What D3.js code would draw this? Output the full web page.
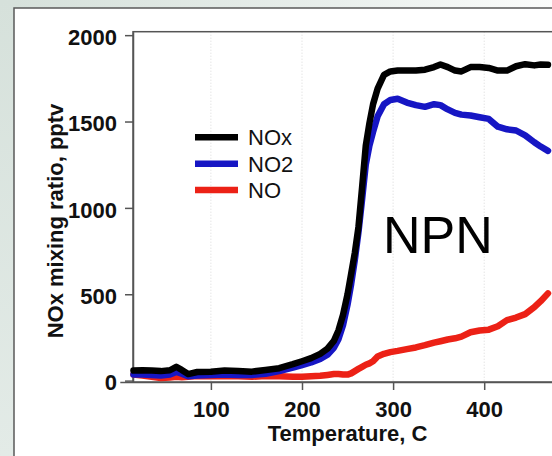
<!DOCTYPE html>
<html>
<head>
<meta charset="utf-8">
<script src="https://cdn.jsdelivr.net/npm/d3@7"></script>
<style>
  body { margin: 0; background: #ffffff; }
  text { font-family: Arial, "Liberation Sans", sans-serif; }
</style>
</head>
<body>
<script>
var w = 552, h = 456;

// temperature, C (shared sample points)
var temps = [15, 25, 35, 45, 55, 62, 68, 75, 85, 100, 115, 130, 145, 160, 175, 190, 200, 210, 220, 228,
    235, 240, 245, 250, 254, 258, 262, 266, 270, 274, 278, 283, 290, 297, 305, 315, 325, 335, 345, 352,
    360, 368, 375, 385, 395, 405, 415, 425, 435, 445, 455, 462, 470];

var noxValues = [58, 60, 58, 55, 60, 80, 62, 38, 50, 52, 58, 55, 52, 62, 72, 95, 112, 130, 155, 185,
    230, 290, 380, 500, 620, 740, 890, 1120, 1360, 1490, 1600, 1690, 1770, 1790, 1795, 1795, 1795, 1800, 1815, 1830,
    1815, 1795, 1790, 1815, 1815, 1810, 1795, 1795, 1820, 1832, 1825, 1830, 1828];

var no2Values = [35, 35, 33, 30, 35, 50, 40, 25, 30, 32, 35, 33, 33, 40, 55, 75, 90, 105, 125, 150,
    190, 240, 320, 440, 560, 700, 860, 1050, 1250, 1360, 1440, 1530, 1600, 1625, 1632, 1610, 1595, 1585, 1600, 1595,
    1570, 1550, 1540, 1535, 1525, 1515, 1470, 1455, 1448, 1420, 1380, 1355, 1330];

var noValues = [35, 30, 22, 15, 18, 22, 20, 22, 27, 25, 27, 25, 22, 27, 25, 22, 22, 25, 28, 33,
    38, 38, 35, 35, 42, 55, 68, 80, 92, 100, 112, 140, 155, 165, 172, 182, 192, 205, 220, 228,
    238, 245, 255, 280, 290, 295, 315, 350, 365, 385, 425, 460, 505];

var seriesNames = ["NOx", "NO2", "NO"];
var seriesColors = ["#000000", "#1616c4", "#ec2116"];

var xTicks = [100, 200, 300, 400];
var yTicks = [0, 500, 1000, 1500, 2000];

var svg = d3.select("body")
    .append("svg")
    .attr("width", w)
    .attr("height", h);

// slide background + shadowy left strip
var defs = svg.append("defs");
var gTop = defs.append("linearGradient").attr("id", "topfade");
gTop.append("stop").attr("offset", "0%").attr("stop-color", "#d6e1db");
gTop.append("stop").attr("offset", "60%").attr("stop-color", "#e9efec");
gTop.append("stop").attr("offset", "100%").attr("stop-color", "#fbfcfb");
var gLeft = defs.append("linearGradient").attr("id", "leftfade")
    .attr("x1", 0).attr("y1", 0).attr("x2", 0).attr("y2", 1);
gLeft.append("stop").attr("offset", "0%").attr("stop-color", "#d6e1db");
gLeft.append("stop").attr("offset", "100%").attr("stop-color", "#e3ebe7");

svg.append("rect").attr("width", w).attr("height", h).style("fill", "url(#leftfade)");
svg.append("rect").attr("x", 14).attr("width", w - 14).attr("height", 8).style("fill", "url(#topfade)");

svg.append("rect")
    .attr("x", 14).attr("y", 8)
    .attr("width", w + 20).attr("height", h + 20)
    .style("fill", "#ffffff")
    .style("stroke", "#5a5a5a")
    .style("stroke-width", 1.5);

var xScale = d3.scaleLinear()
    .domain([0, 500])
    .range([119.8, 575.3]);

var yScale = d3.scaleLinear()
    .domain([-8, 2020])
    .range([382, 31.7]);

var x0 = xScale(14.5), xEnd = xScale(495);

// vertical dotted grid
svg.append("g")
    .selectAll("line")
    .data(xTicks)
    .enter()
    .append("line")
    .attr("x1", d => xScale(d)).attr("x2", d => xScale(d))
    .attr("y1", yScale(2020)).attr("y2", yScale(-8))
    .style("stroke", "#d8d8d8")
    .style("stroke-dasharray", "1,2");

// plot frame
svg.append("rect")
    .attr("x", x0).attr("y", yScale(2020))
    .attr("width", xEnd - x0).attr("height", yScale(-8) - yScale(2020))
    .style("fill", "none")
    .style("stroke", "#555555")
    .style("stroke-width", 1.5);

var yAxis = d3.axisLeft(yScale)
    .tickValues(yTicks)
    .tickFormat(d3.format("d"))
    .tickSize(8)
    .tickSizeOuter(0)
    .tickPadding(8);

var xAxis = d3.axisBottom(xScale)
    .tickValues(xTicks)
    .tickFormat(d3.format("d"))
    .tickSize(8)
    .tickSizeOuter(0)
    .tickPadding(11);

var gy = svg.append("g")
    .attr("transform", "translate(" + x0 + ",0)")
    .call(yAxis);

var gx = svg.append("g")
    .attr("transform", "translate(0," + yScale(-8) + ")")
    .call(xAxis);

[gx, gy].forEach(function(g) {
    g.select(".domain").style("stroke", "#555555").style("stroke-width", 1.5);
    g.selectAll(".tick line").style("stroke", "#555555").style("stroke-width", 1.5);
    g.selectAll(".tick text")
        .style("font-size", "22px")
        .style("font-weight", "bold")
        .style("fill", "#111111");
});
gy.selectAll(".tick text").attr("dy", "0.42em");

// data lines
var allValues = [noxValues, no2Values, noValues];
var line = d3.line()
    .x((d, i) => xScale(temps[i]))
    .y(d => yScale(d));

[2, 1, 0].forEach(function(k) {
    svg.append("path")
        .datum(allValues[k])
        .attr("d", line)
        .style("fill", "none")
        .style("stroke", seriesColors[k])
        .style("stroke-width", 6.5)
        .style("stroke-linejoin", "round")
        .style("stroke-linecap", "round");
});

// legend
var legend = svg.append("g");
seriesNames.forEach(function(name, i) {
    var yy = 137.3 + i * 26.4;
    legend.append("line")
        .attr("x1", 195).attr("x2", 238)
        .attr("y1", yy).attr("y2", yy)
        .style("stroke", seriesColors[i])
        .style("stroke-width", 6.5);
    legend.append("text")
        .attr("x", 248)
        .attr("y", yy + 7.8)
        .style("font-size", "22px")
        .style("fill", "#111111")
        .text(name);
});

svg.append("text")
    .attr("x", 383)
    .attr("y", 253)
    .style("font-size", "52px")
    .style("fill", "#000000")
    .text("NPN");

svg.append("text")
    .attr("x", xScale(250))
    .attr("y", 440.5)
    .attr("text-anchor", "middle")
    .style("font-size", "22px")
    .style("font-weight", "bold")
    .style("fill", "#111111")
    .text("Temperature, C");

svg.append("text")
    .attr("transform", "translate(62.5,221) rotate(-90)")
    .attr("text-anchor", "middle")
    .style("font-size", "22px")
    .style("font-weight", "bold")
    .style("fill", "#111111")
    .text("NOx mixing ratio, pptv");
</script>
</body>
</html>
